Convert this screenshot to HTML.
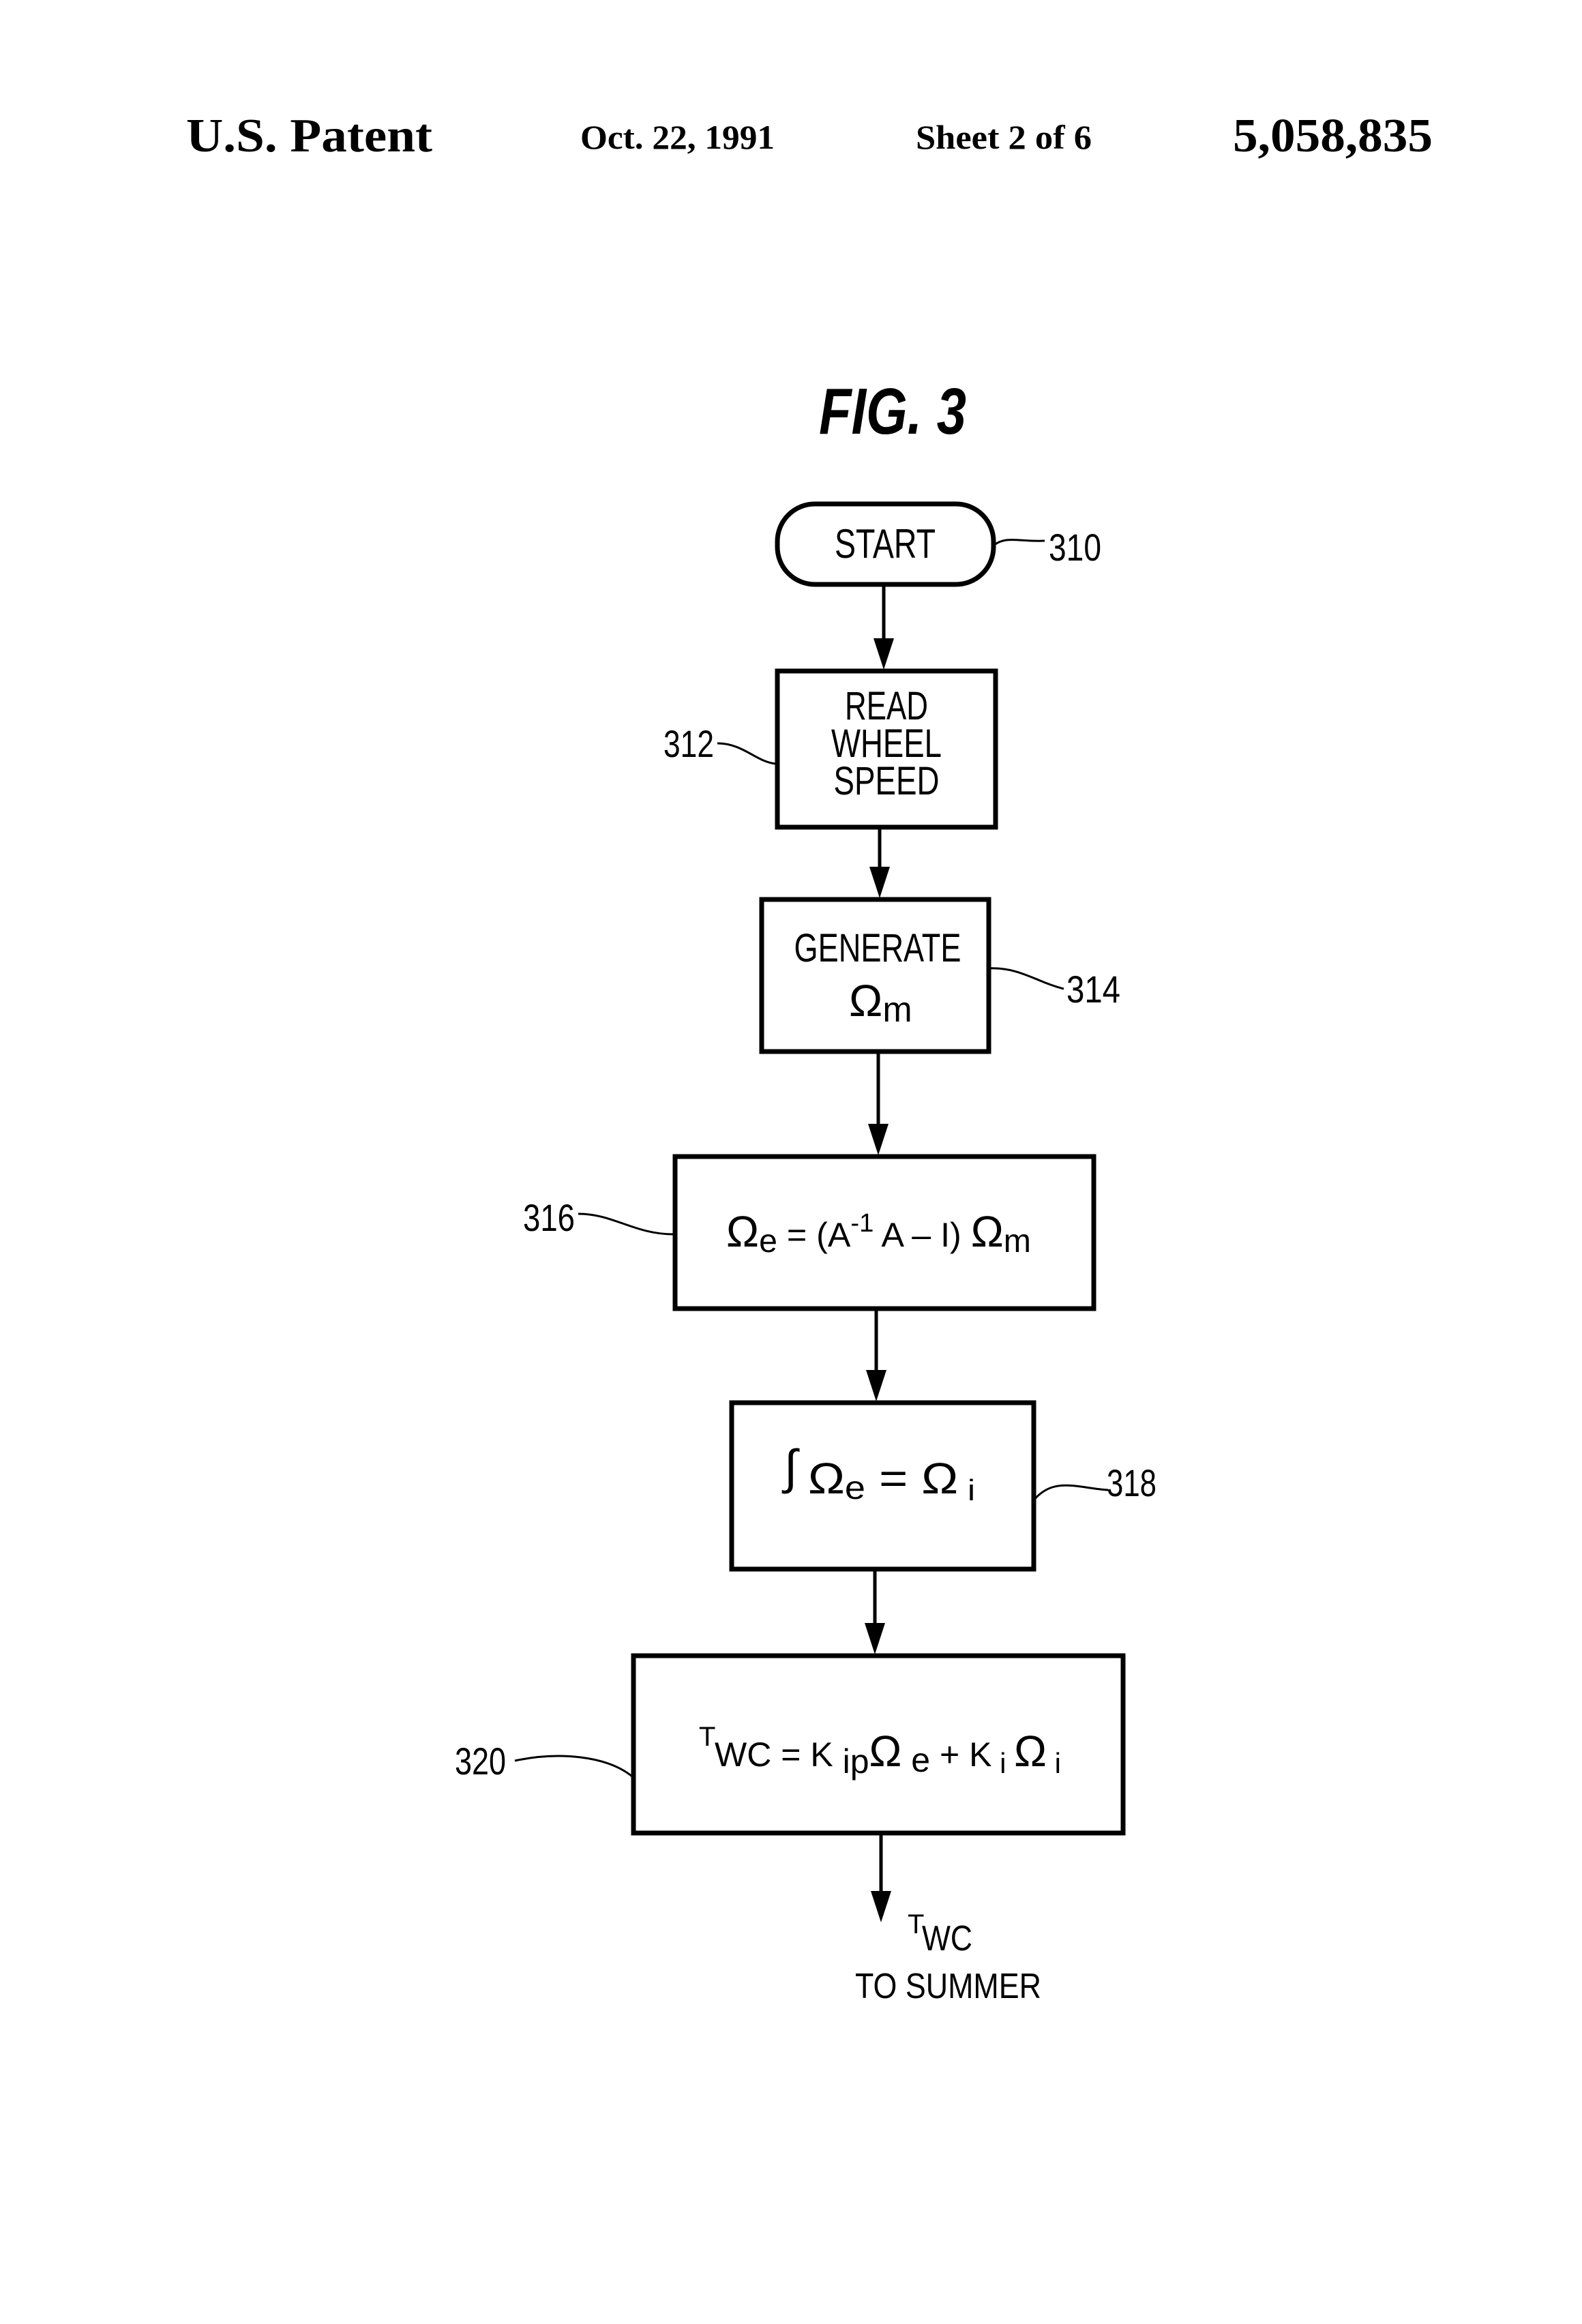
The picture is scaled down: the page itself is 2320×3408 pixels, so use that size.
<!DOCTYPE html>
<html><head><meta charset="utf-8"><style>
html,body{margin:0;padding:0;background:#fff;}
svg{display:block;}
.s{font-family:"Liberation Sans",sans-serif;fill:#000;}
.h{font-family:"Liberation Serif",serif;fill:#000;}
</style></head><body>
<svg width="2320" height="3408" viewBox="0 0 2320 3408" xmlns="http://www.w3.org/2000/svg">
<text class="h" x="273" y="222" font-size="70" font-weight="bold" textLength="361" lengthAdjust="spacingAndGlyphs">U.S. Patent</text>
<text class="h" x="851" y="218" font-size="50" font-weight="bold" textLength="285" lengthAdjust="spacingAndGlyphs">Oct. 22, 1991</text>
<text class="h" x="1343" y="218" font-size="50" font-weight="bold" textLength="258" lengthAdjust="spacingAndGlyphs">Sheet 2 of 6</text>
<text class="h" x="1808" y="222" font-size="70" font-weight="bold" textLength="293" lengthAdjust="spacingAndGlyphs">5,058,835</text>
<text class="s" x="1201" y="636" font-size="96" font-weight="bold" font-style="italic" textLength="216" lengthAdjust="spacingAndGlyphs">FIG. 3</text>
<g fill="none" stroke="#000" stroke-width="7">
<rect x="1140" y="739" width="317" height="118" rx="55"/>
<rect x="1140" y="984" width="320" height="229"/>
<rect x="1117" y="1319" width="333" height="223"/>
<rect x="990" y="1696" width="614" height="223"/>
<rect x="1073" y="2057" width="443" height="244"/>
<rect x="929" y="2428" width="718" height="260"/>
</g>
<g stroke="#000" stroke-width="5" fill="none">
<line x1="1296" y1="857" x2="1296" y2="950"/>
<line x1="1290" y1="1213" x2="1290" y2="1290"/>
<line x1="1288" y1="1542" x2="1288" y2="1660"/>
<line x1="1285" y1="1919" x2="1285" y2="2020"/>
<line x1="1283" y1="2301" x2="1283" y2="2390"/>
<line x1="1292" y1="2688" x2="1292" y2="2790"/>
<path d="M1457,800 C1475,785 1495,795 1532,793" stroke-width="3"/>
<path d="M1052,1090 C1090,1090 1110,1118 1138,1120" stroke-width="3"/>
<path d="M1450,1420 C1495,1418 1520,1440 1560,1450" stroke-width="3"/>
<path d="M848,1780 C900,1780 930,1810 988,1810" stroke-width="3"/>
<path d="M1516,2200 C1545,2165 1580,2182 1625,2185" stroke-width="3"/>
<path d="M755,2582 C820,2568 890,2575 927,2605" stroke-width="3"/>
</g>
<g fill="#000">
<path d="M1281,936 L1311,936 L1296,982 z"/>
<path d="M1275,1271 L1305,1271 L1290,1317 z"/>
<path d="M1273,1648 L1303,1648 L1288,1694 z"/>
<path d="M1270,2009 L1300,2009 L1285,2055 z"/>
<path d="M1268,2380 L1298,2380 L1283,2426 z"/>
<path d="M1277,2773 L1307,2773 L1292,2819 z"/>
</g>
<g class="s">
<text x="1298" y="818" font-size="60" text-anchor="middle" textLength="148" lengthAdjust="spacingAndGlyphs">START</text>
<text x="1538" y="822" font-size="56" textLength="77" lengthAdjust="spacingAndGlyphs">310</text>
<text x="1300" y="1055" font-size="58" text-anchor="middle" textLength="122" lengthAdjust="spacingAndGlyphs">READ</text>
<text x="1300" y="1110" font-size="58" text-anchor="middle" textLength="162" lengthAdjust="spacingAndGlyphs">WHEEL</text>
<text x="1300" y="1165" font-size="58" text-anchor="middle" textLength="155" lengthAdjust="spacingAndGlyphs">SPEED</text>
<text x="973" y="1110" font-size="56" textLength="74" lengthAdjust="spacingAndGlyphs">312</text>
<text x="1287" y="1410" font-size="58" text-anchor="middle" textLength="245" lengthAdjust="spacingAndGlyphs">GENERATE</text>
<text x="1245" y="1490" font-size="66">Ω<tspan font-size="52" dy="8">m</tspan></text>
<text x="1564" y="1470" font-size="56" textLength="79" lengthAdjust="spacingAndGlyphs">314</text>
<text x="767" y="1805" font-size="56" textLength="76" lengthAdjust="spacingAndGlyphs">316</text>
<text x="1065" y="1828" font-size="64" textLength="447" lengthAdjust="spacingAndGlyphs">Ω<tspan font-size="48" dy="8">e</tspan><tspan font-size="50" dy="-8"> = (A</tspan><tspan font-size="38" dy="-22">-1</tspan><tspan font-size="50" dy="22"> A – I) </tspan>Ω<tspan font-size="48" dy="8">m</tspan></text>
<text x="1150" y="2175" font-size="70" font-style="italic">∫</text>
<text x="1185" y="2190" font-size="64" textLength="245" lengthAdjust="spacingAndGlyphs">Ω<tspan font-size="48" dy="8">e</tspan><tspan dy="-8"> = Ω</tspan><tspan font-size="44" dy="10"> i</tspan></text>
<text x="1623" y="2194" font-size="56" textLength="73" lengthAdjust="spacingAndGlyphs">318</text>
<text x="667" y="2602" font-size="56" textLength="75" lengthAdjust="spacingAndGlyphs">320</text>
<text x="1025" y="2560" font-size="40">T</text>
<text x="1048" y="2590" font-size="50" textLength="508" lengthAdjust="spacingAndGlyphs">WC  = K<tspan dy="10"> ip</tspan><tspan font-size="64" dy="-10">Ω</tspan><tspan dy="8"> e</tspan><tspan dy="-8"> + K</tspan><tspan font-size="42" dy="10"> i </tspan><tspan font-size="64" dy="-10">Ω</tspan><tspan font-size="42" dy="10"> i</tspan></text>
<text x="1331" y="2835" font-size="40">T</text>
<text x="1352" y="2860" font-size="52" textLength="74" lengthAdjust="spacingAndGlyphs">WC</text>
<text x="1254" y="2930" font-size="52" textLength="273" lengthAdjust="spacingAndGlyphs">TO SUMMER</text>
</g>
</svg>
</body></html>
